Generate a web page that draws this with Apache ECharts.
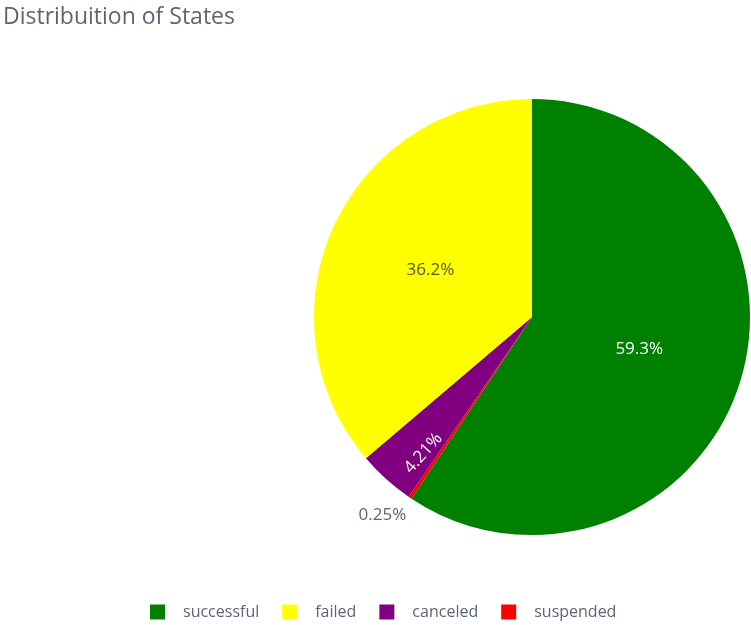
<!DOCTYPE html>
<html>
<head>
<meta charset="utf-8">
<script src="https://cdn.jsdelivr.net/npm/echarts@6/dist/echarts.min.js"></script>
<style>
  html, body { margin: 0; padding: 0; background: #fff; }
  #chart { width: 751px; height: 625px; }
</style>
</head>
<body>
<div id="chart"></div>
<script>
// Share of each project state, in percent
const states = ['successful', 'suspended', 'canceled', 'failed'];
const shares = [59.3, 0.25, 4.21, 36.2];
const legendOrder = ['successful', 'failed', 'canceled', 'suspended'];

const sliceColors = {
  successful: '#008000',
  suspended: '#ff0000',
  canceled: '#800080',
  failed: '#ffff00'
};
const labelStyles = {
  successful: { position: 'inside', color: '#ffffff' },
  suspended: { position: 'outside', color: '#5c6478' },
  canceled: { position: 'inside', color: '#ffffff' },
  failed: { position: 'inside', color: '#55552a' }
};

const CX = 532, CY = 317, R = 218;
const total = shares.reduce((a, b) => a + b, 0);

// Mid angle of a slice, degrees clockwise from 12 o'clock
function midAngle(idx) {
  let before = 0;
  for (let i = 0; i < idx; i++) before += shares[i];
  return (before + shares[idx] / 2) / total * 360;
}
function polar(angle, dist) {
  const a = angle * Math.PI / 180;
  return [CX + dist * Math.sin(a), CY - dist * Math.cos(a)];
}

const chart = echarts.init(document.getElementById('chart'), null, { renderer: 'canvas' });

chart.setOption({
  animation: false,
  backgroundColor: '#ffffff',
  textStyle: { fontFamily: '"Open Sans", Verdana, sans-serif' },
  title: {
    text: 'Distribuition of States',
    left: -2,
    top: 1,
    textStyle: {
      fontFamily: '"Open Sans", Verdana, sans-serif',
      fontSize: 23,
      fontWeight: 'normal',
      color: '#5c6478'
    }
  },
  legend: {
    data: legendOrder,
    top: 599,
    left: 145,
    itemWidth: 15,
    itemHeight: 15,
    itemGap: 23,
    icon: 'rect',
    textStyle: { fontSize: 16, color: '#5c6478', padding: [0, 0, 0, 13] }
  },
  series: [{
    type: 'pie',
    center: [CX, CY],
    radius: R,
    startAngle: 90,
    clockwise: true,
    avoidLabelOverlap: false,
    itemStyle: { borderWidth: 0 },
    labelLine: { show: false, length: 4, length2: 4 },
    labelLayout: function (p) {
      const name = states[p.dataIndex];
      const ang = midAngle(p.dataIndex);
      if (name === 'canceled') {
        // narrow wedge: push the rotated label out towards the rim
        const pt = polar(ang - 3.5, R * 0.8);
        return { x: pt[0], y: pt[1], align: 'center', verticalAlign: 'middle', rotate: 270 - ang };
      }
      if (name === 'suspended') {
        const pt = polar(ang + 3, R * 1.14);
        return { x: pt[0], y: pt[1], align: 'center', verticalAlign: 'middle' };
      }
      return {};
    },
    data: states.map((name, i) => ({
      name: name,
      value: shares[i],
      itemStyle: { color: sliceColors[name] },
      label: Object.assign({
        show: true,
        fontSize: 17,
        formatter: shares[i] + '%'
      }, labelStyles[name])
    }))
  }]
});
</script>
</body>
</html>
